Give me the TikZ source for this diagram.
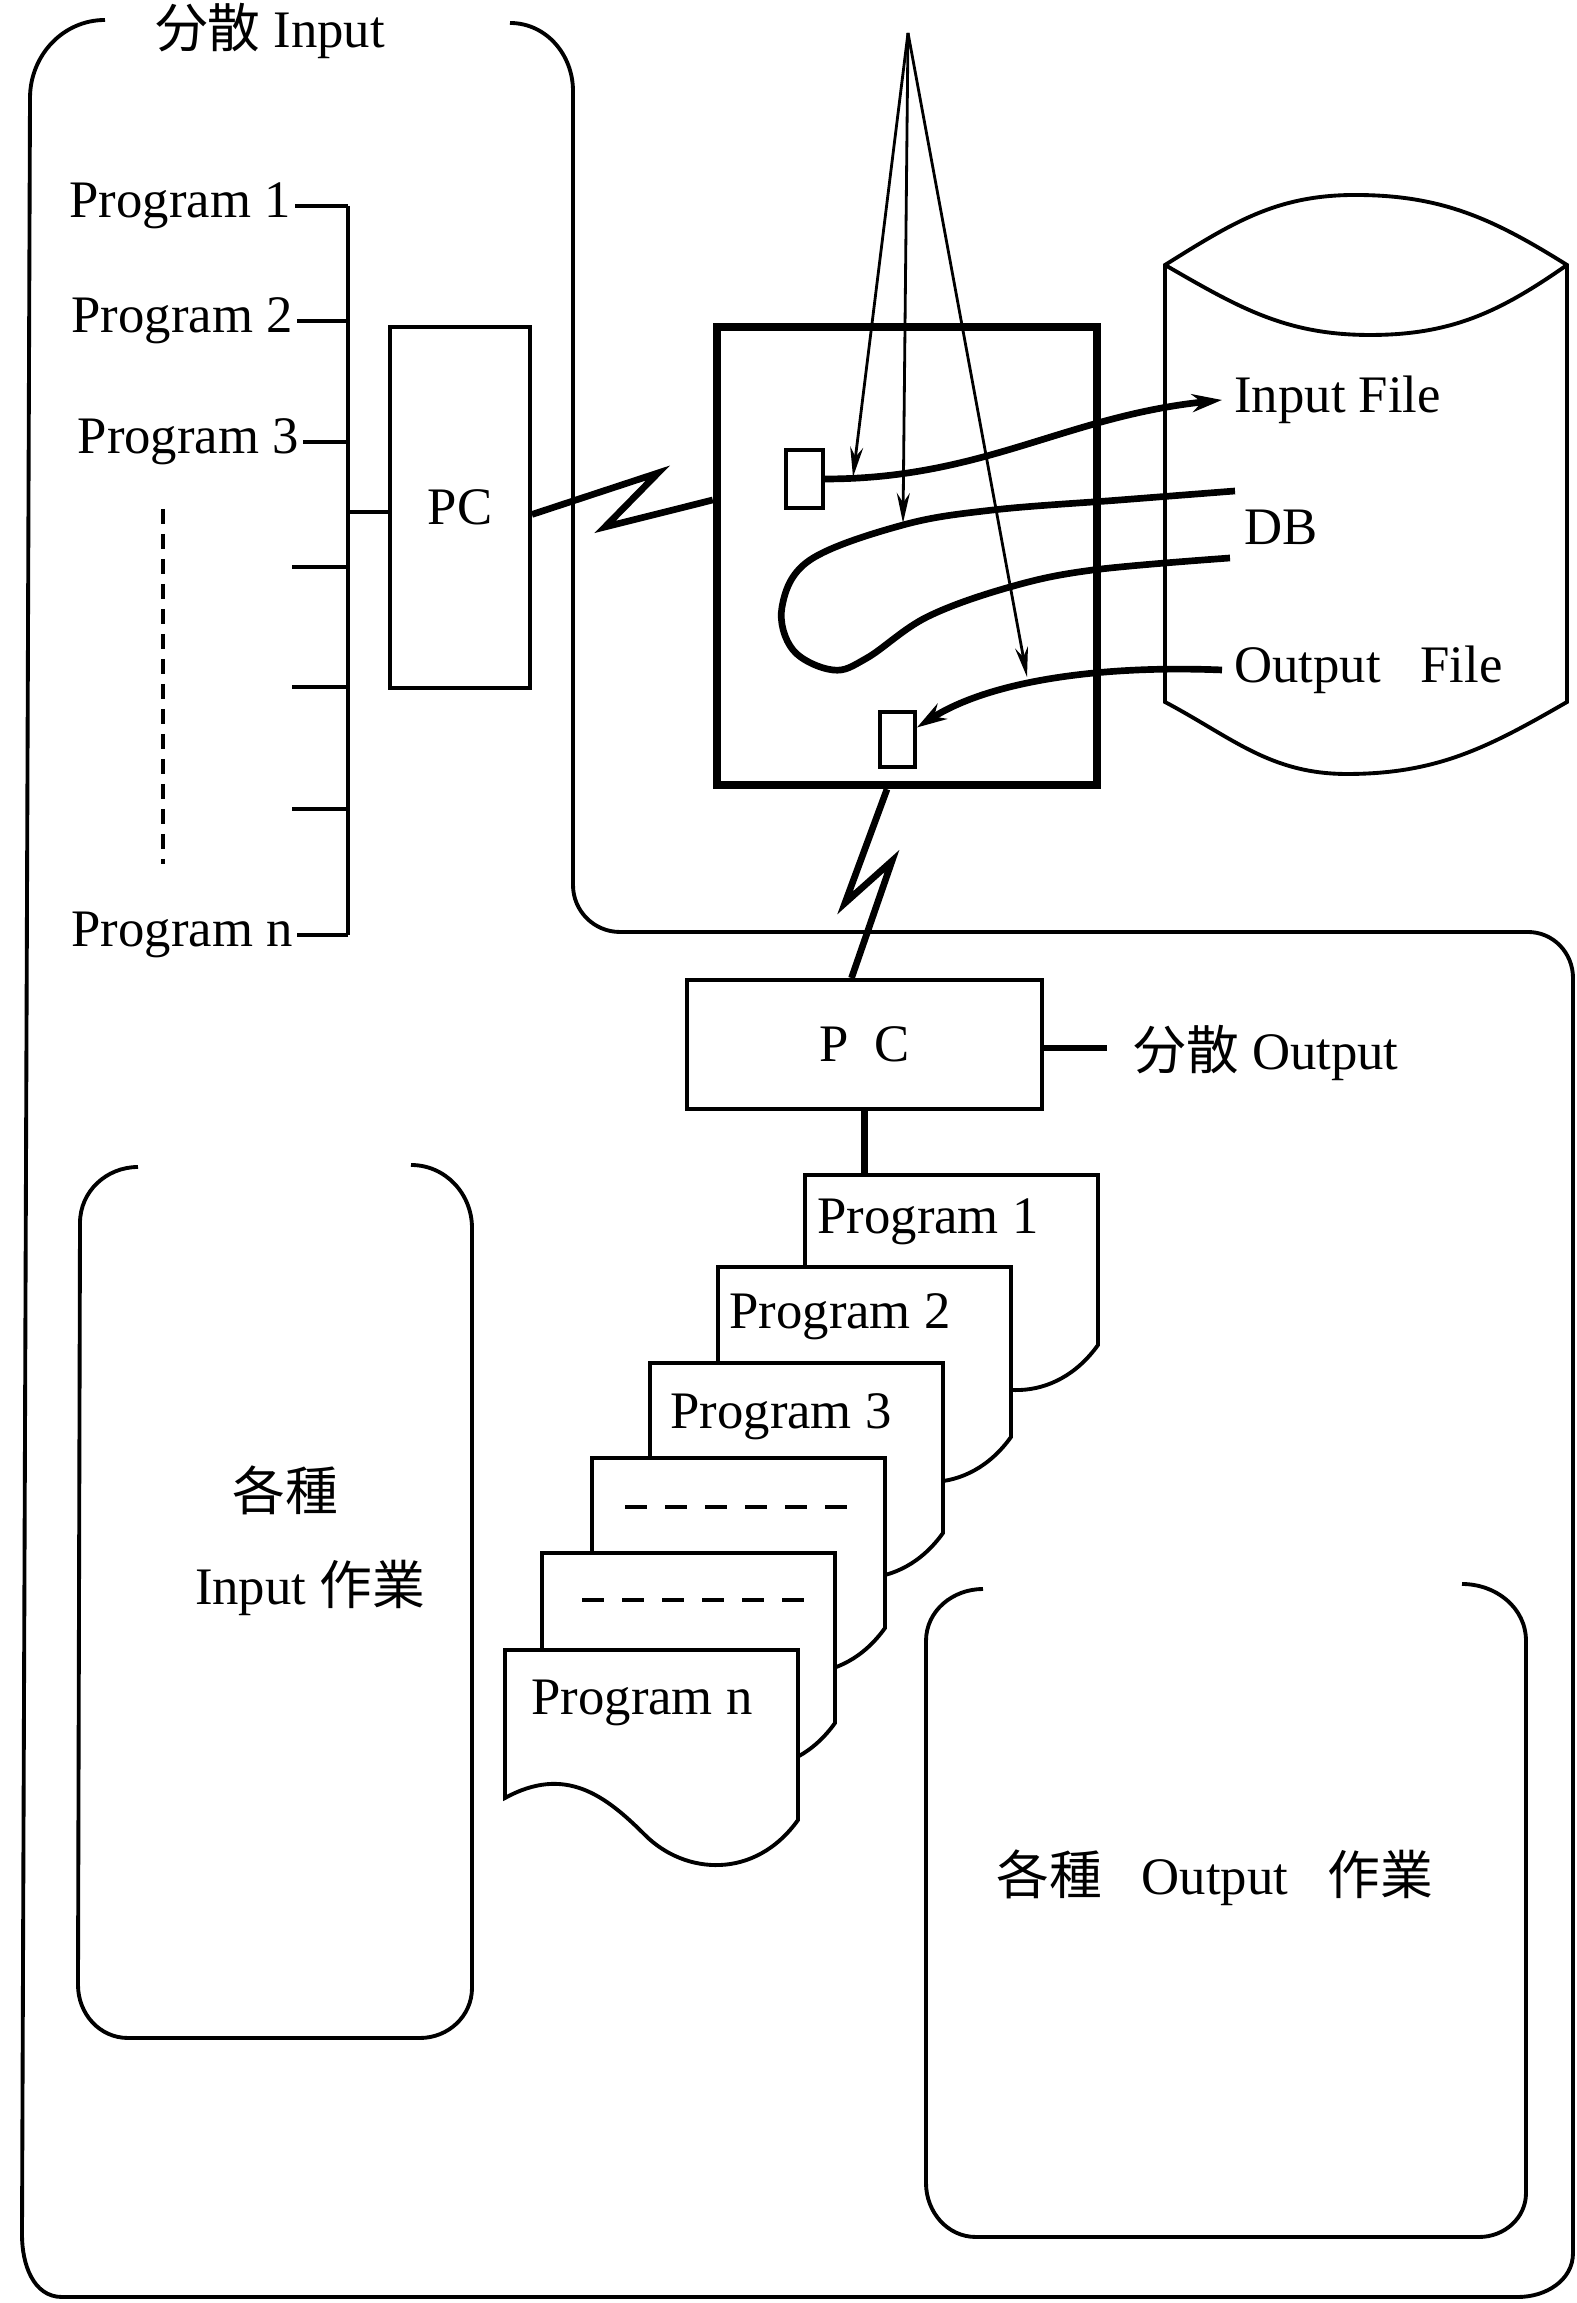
\documentclass[tikz,border=0pt]{standalone}
\usepackage{fontspec}
\setmainfont{Liberation Serif}
\newfontfamily\cjk{Noto Sans CJK JP}
\usetikzlibrary{arrows.meta}

\begin{document}
\begin{tikzpicture}[
  every node/.style={font=\fontsize{15}{18}\selectfont},
  frame/.style={line width=1.1pt},
  box/.style={rectangle, draw=black, line width=1.1pt},
  hostbox/.style={rectangle, draw=black, line width=2.4pt},
  slot/.style={rectangle, draw=black, line width=1.1pt, inner sep=0pt},
  wire/.style={line width=1.1pt},
  heavy/.style={line width=1.9pt},
  flow/.style={line width=1.9pt, ->, >={Stealth[length=3mm,width=1.8mm]}},
  pointer/.style={line width=0.8pt, ->, >={Stealth[length=3mm,width=1.3mm]}},
  sheet/.style={draw=black, fill=white, line width=1.1pt},
  listlabel/.style={anchor=east, inner sep=1pt},
  dashrow/.style={line width=1.3pt, dash pattern=on 2.2mm off 1.8mm},
  progsheet/.pic={
    \draw[sheet] (0,0) -- (2.93,0) -- (2.93,-1.70)
      .. controls (2.5,-2.3) and (1.8,-2.25) .. (1.4,-1.85)
      .. controls (1.0,-1.45) and (0.6,-1.15) .. (0,-1.48) -- cycle;
  }
]
\useasboundingbox (0,0) rectangle (15.77,23.03);

% outer frame
\draw[frame] (1.05,22.83) to[out=180,in=90] (0.30,22.05) -- (0.22,0.68)
  to[out=-90,in=180] (0.62,0.06) -- (15.18,0.06) to[out=0,in=-90] (15.73,0.50)
  -- (15.73,13.25) to[out=90,in=0] (15.28,13.71) -- (6.20,13.71)
  to[out=180,in=-90] (5.73,14.18) -- (5.73,22.12) to[out=90,in=0] (5.10,22.80);
\node (inTitle) at (2.70,22.72) {{\cjk 分散} Input};

% input programs
\coordinate (busTop) at (3.48,20.97);
\coordinate (busBot) at (3.48,13.68);
\node[listlabel] (prog1) at (2.95,20.97) {Program 1};
\node[listlabel] (prog2) at (2.97,19.82) {Program 2};
\node[listlabel] (prog3) at (3.03,18.61) {Program 3};
\node[listlabel] (progn) at (2.97,13.68) {Program n};
\draw[wire] (busTop) -- (busBot);
\draw[wire] (prog1.east) -- (prog1.east -| busTop);
\draw[wire] (prog2.east) -- (prog2.east -| busTop);
\draw[wire] (prog3.east) -- (prog3.east -| busTop);
\draw[wire] (progn.east) -- (progn.east -| busTop);
\coordinate (stub1) at (2.92,17.36);
\coordinate (stub2) at (2.92,16.16);
\coordinate (stub3) at (2.92,14.94);
\draw[wire] (stub1) -- (stub1 -| busTop);
\draw[wire] (stub2) -- (stub2 -| busTop);
\draw[wire] (stub3) -- (stub3 -| busTop);
\coordinate (dotsTop) at (1.63,17.94);
\coordinate (dotsBot) at (1.63,14.39);
\draw[wire, dash pattern=on 1.5mm off 1mm] (dotsTop) -- (dotsBot);

% PC on the input side
\node[box, minimum width=1.40cm, minimum height=3.61cm] (pcIn) at (4.60,17.955) {PC};
\coordinate (busPC) at (3.48,17.91);
\draw[wire] (busPC) -- (busPC -| pcIn.west);

% host
\node[hostbox, minimum width=3.80cm, minimum height=4.58cm] (host) at (9.07,17.47) {};
\node[slot, minimum width=0.37cm, minimum height=0.58cm] (inSlot) at (8.045,18.24) {};
\node[slot, minimum width=0.35cm, minimum height=0.55cm] (outSlot) at (8.975,15.635) {};
\draw[heavy] ([yshift=-0.7mm]pcIn.east) -- (6.58,18.30) -- (6.05,17.76) -- (host.west |- 0,18.03);

% database
\draw[wire] (11.65,16.01) -- (11.65,20.38) to[out=32,in=180] (13.55,21.08)
  to[out=0,in=148] (15.67,20.38) -- (15.67,16.01) to[out=-150,in=0] (13.47,15.29)
  to[out=180,in=-28] cycle;
\draw[wire] (11.65,20.38) to[out=-30,in=180] (13.70,19.68) to[out=0,in=-145] (15.67,20.38);
\node[anchor=west] (inFile) at (12.22,19.03) {Input File};
\node (db) at (12.81,17.76) {DB};
\node[anchor=west] (outFile) at (12.22,16.33) {Output~~~File};

% file flows
\draw[flow] (inSlot.east) to[out=0,in=186] (inFile.west);
\draw[heavy] plot[smooth, tension=0.6] coordinates {(12.35,18.12) (11.20,18.03)
  (9.93,17.93) (9.03,17.78) (8.10,17.43) (7.82,16.96) (7.93,16.53) (8.33,16.33)
  (8.67,16.45) (9.27,16.86) (10.10,17.16) (10.93,17.33) (12.30,17.45)};
\draw[flow] (outFile.west) .. controls (11.0,16.38) and (9.9,16.22) .. ([yshift=1.2mm]outSlot.east);

% pointers
\coordinate (apex) at (9.08,22.70);
\coordinate (inTap) at (8.53,18.26);
\coordinate (dbTap) at (9.03,17.80);
\coordinate (outTap) at (10.27,16.26);
\draw[pointer] (apex) -- (inTap);
\draw[pointer] (apex) -- (dbTap);
\draw[pointer] (apex) -- (outTap);

% PC on the output side
\node[box, minimum width=3.55cm, minimum height=1.29cm] (pcOut) at (8.645,12.585) {P~~C};
\draw[heavy] ([xshift=-2mm]host.south) -- (8.45,14.00) -- (8.92,14.42) -- ([xshift=-1.3mm]pcOut.north);
\coordinate (outStub) at (11.07,12.55);
\draw[heavy] (pcOut.east |- outStub) -- (outStub);
\node[anchor=west] (outTitle) at (11.21,12.50) {{\cjk 分散} Output};
\draw[heavy] (pcOut.south) -- ++(0,-0.66);

% output programs
\pic at (8.05,11.28) {progsheet};
\node[anchor=west] (sheet1) at (8.05,10.81) {Program 1};
\pic at (7.18,10.36) {progsheet};
\node[anchor=west] (sheet2) at (7.17,9.86) {Program 2};
\pic at (6.50,9.40) {progsheet};
\node[anchor=west] (sheet3) at (6.58,8.86) {Program 3};
\pic at (5.92,8.45) {progsheet};
\draw[dashrow] (6.25,7.96) -- (8.48,7.96);
\pic at (5.42,7.50) {progsheet};
\draw[dashrow] (5.82,7.03) -- (8.07,7.03);
\pic at (5.05,6.53) {progsheet};
\node[anchor=west] (sheetn) at (5.19,6.00) {Program n};

% input work
\draw[frame] (1.38,11.36) to[out=180,in=90] (0.80,10.80) -- (0.78,3.18)
  to[out=-90,in=180] (1.28,2.65) -- (4.20,2.65) to[out=0,in=-90] (4.72,3.15)
  -- (4.72,10.75) to[out=90,in=0] (4.11,11.38);
\node (inWork1) at (2.85,8.13) {\cjk 各種};
\node (inWork2) at (3.10,7.15) {Input {\cjk 作業}};

% output work
\draw[frame] (9.83,7.14) to[out=180,in=90] (9.26,6.62) -- (9.26,1.20)
  to[out=-90,in=180] (9.76,0.66) -- (14.79,0.66) to[out=0,in=-90] (15.26,1.10)
  -- (15.26,6.62) to[out=90,in=0] (14.62,7.19);
\node (outWork) at (12.15,4.25) {{\cjk 各種}~~~Output~~~{\cjk 作業}};
\end{tikzpicture}
\end{document}
